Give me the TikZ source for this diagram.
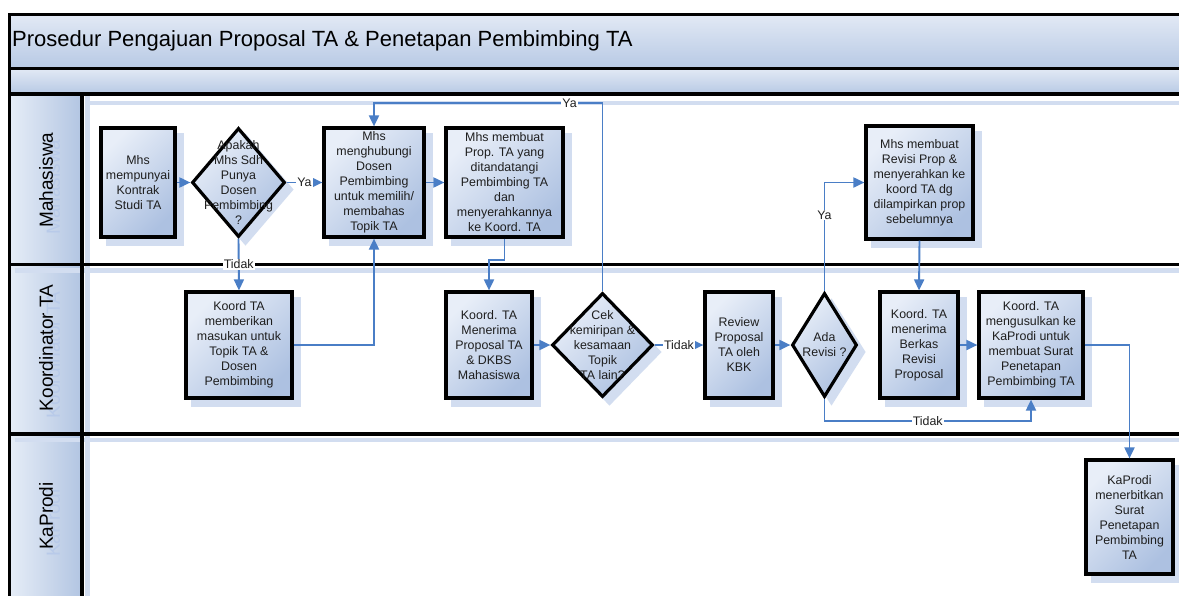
\documentclass[tikz,border=0pt]{standalone}
\usepackage{fontspec}
\setmainfont{Liberation Sans}
\usetikzlibrary{arrows.meta,shapes.geometric}
\definecolor{boxlight}{HTML}{E8EEF8}
\definecolor{boxdark}{HTML}{ADC1E1}
\definecolor{shadowblue}{HTML}{D2DDF0}
\definecolor{hdrlight}{HTML}{E6EDF7}
\definecolor{hdrdark}{HTML}{B2C5E2}
\definecolor{bandlight}{HTML}{E2E9F5}
\definecolor{banddark}{HTML}{B7C9E4}
\definecolor{flow}{HTML}{4A7EC6}
\definecolor{txt}{HTML}{1E1E1E}
\definecolor{ghost}{HTML}{B8CAE9}
\pgfdeclarelayer{lanes}
\pgfdeclarelayer{shadowlayer}
\pgfsetlayers{lanes,shadowlayer,main}
\begin{document}
\begin{tikzpicture}[x=1pt,y=-1pt,
  proc/.style={draw=black,line width=3.2pt,top color=boxlight,bottom color=boxdark,shading angle=45,
    inner sep=0pt,align=center,text=txt,font=\fontsize{12.4}{15}\selectfont},
  dec/.style={shape=diamond,draw=black,line width=3.2pt,top color=boxlight,bottom color=boxdark,shading angle=45,
    inner sep=0pt},
  dectext/.style={align=center,text=txt,font=\fontsize{12.4}{15}\selectfont,inner sep=0pt},
  flowline/.style={draw=flow,line width=1.9pt,-{Triangle[length=11pt,width=10pt]}},
  lab/.style={fill=white,inner sep=1pt,text=txt,font=\fontsize{12.4}{14}\selectfont},
  frame/.style={draw=black,line width=3.2pt},
  stripe/.style={draw=shadowblue,line width=4.5pt},
  shadowfill/.style={fill=shadowblue},
  lanetitle/.style={rotate=90,text=black,font=\fontsize{19}{22}\selectfont,inner sep=0pt},
  laneghost/.style={rotate=90,text=ghost,font=\fontsize{19}{22}\selectfont,inner sep=0pt}
]
\useasboundingbox (0,0) rectangle (1179,595);
\clip (0,0) rectangle (1179,595);
\begin{pgfonlayer}{lanes}
% bands and lanes
\fill[top color=bandlight,bottom color=banddark] (9.5,14.5) rectangle (1190,68.5);
\fill[top color=bandlight,bottom color=banddark] (9.5,68.5) rectangle (1190,94);
\fill[white] (82,94) rectangle (1190,600);
\fill[left color=hdrlight,right color=hdrdark] (9.5,94) rectangle (82,600);
% shadow stripes
\draw[stripe] (85,103) -- (1190,103);
\draw[stripe] (15,270.5) -- (1190,270.5);
\draw[stripe] (15,440) -- (1190,440);
\draw[stripe] (87.5,96) -- (87.5,600);
% frame lines
\draw[frame] (1190,14.5) -- (9.5,14.5) -- (9.5,600);
\draw[frame] (9.5,68.5) -- (1190,68.5);
\draw[frame] (9.5,94) -- (1190,94);
\draw[frame] (9.5,264.5) -- (1190,264.5);
\draw[frame] (9.5,434) -- (1190,434);
\draw[frame] (82,94) -- (82,600);
\end{pgfonlayer}
% title
\node[anchor=west,inner sep=0pt,text=black,font=\fontsize{22}{25}\selectfont] (title) at (12,40.5)
  {Prosedur Pengajuan Proposal TA \& Penetapan Pembimbing TA};
% lane titles
\node[laneghost] (lmg) at (53,187) {Mahasiswa};
\node[lanetitle] (lm) at (46,180) {Mahasiswa};
\node[laneghost] (lkg) at (53,355) {Koordinator TA};
\node[lanetitle] (lk) at (46,348) {Koordinator TA};
\node[laneghost] (lpg) at (53,523) {KaProdi};
\node[lanetitle] (lp) at (46,516) {KaProdi};
% process nodes
\node[proc,minimum width=74pt,minimum height=109pt] (A) at (138,182.5) {Mhs\\mempunyai\\Kontrak\\Studi TA};
\node[dec,minimum width=93pt,minimum height=109pt,
  label={[dectext]center:{Apakah\\Mhs Sdh\\Punya\\Dosen\\Pembimbing\\?}}] (D1) at (238.5,182.5) {};
\node[proc,minimum width=100pt,minimum height=109pt] (B) at (374,182.5)
  {Mhs\\menghubungi\\Dosen\\Pembimbing\\untuk memilih/\\membahas\\Topik TA};
\node[proc,minimum width=117pt,minimum height=109pt] (C) at (504.5,182.5)
  {Mhs membuat\\Prop. TA yang\\ditandatangi\\Pembimbing TA\\dan\\menyerahkannya\\ke Koord. TA};
\node[proc,minimum width=107pt,minimum height=113pt] (E) at (919.5,182.5)
  {Mhs membuat\\Revisi Prop \&\\menyerahkan ke\\koord TA dg\\dilampirkan prop\\sebelumnya};
\node[proc,minimum width=106pt,minimum height=106pt] (F) at (239,345)
  {Koord TA\\memberikan\\masukan untuk\\Topik TA \&\\Dosen\\Pembimbing};
\node[proc,minimum width=86pt,minimum height=106pt] (G) at (489,345)
  {Koord. TA\\Menerima\\Proposal TA\\\& DKBS\\Mahasiswa};
\node[dec,minimum width=101pt,minimum height=104pt,
  label={[dectext]center:{Cek\\kemiripan \&\\kesamaan\\Topik\\TA lain?}}] (D2) at (602.5,345) {};
\node[proc,minimum width=68pt,minimum height=106pt] (H) at (739,345)
  {Review\\Proposal\\TA oleh\\KBK};
\node[dec,minimum width=65pt,minimum height=104pt,
  label={[dectext]center:{Ada\\Revisi ?}}] (D3) at (824.5,345) {};
\node[proc,minimum width=78pt,minimum height=106pt] (I) at (919,345)
  {Koord. TA\\menerima\\Berkas\\Revisi\\Proposal};
\node[proc,minimum width=104pt,minimum height=106pt] (J) at (1031,345)
  {Koord. TA\\mengusulkan ke\\KaProdi untuk\\membuat Surat\\Penetapan\\Pembimbing TA};
\node[proc,minimum width=87pt,minimum height=114pt] (K) at (1129.5,517)
  {KaProdi\\menerbitkan\\Surat\\Penetapan\\Pembimbing\\TA};
% shadows
\begin{pgfonlayer}{shadowlayer}
\foreach \n in {A,B,C,E,F,G,H,I,J,K}{
  \fill[shadowfill] ([shift={(7,7)}]\n.north west) rectangle ([shift={(7,7)}]\n.south east);
}
\foreach \n in {D1,D2,D3}{
  \fill[shadowfill] ([shift={(7,7)}]\n.north) -- ([shift={(7,7)}]\n.east) -- ([shift={(7,7)}]\n.south)
    -- ([shift={(7,7)}]\n.west) -- cycle;
}
\end{pgfonlayer}
% connectors
\draw[flowline] (A) -- (D1);
\draw[flowline] (D1) -- node[lab] {Ya} (B);
\draw[flowline] (D1.south) -- node[lab] {Tidak} (F.north);
\draw[flowline] (F.east) -| (B.south);
\draw[flowline] (B) -- (C);
\draw[flowline] (C.south) -- ([yshift=-21pt]C.south) -| (G.north);
\draw[flowline] (G) -- (D2);
\draw[flowline] (D2.north) |- node[lab,pos=0.572] {Ya} ([yshift=23pt]B.north) -- (B.north);
\draw[flowline] (D2) -- node[lab] {Tidak} (H);
\draw[flowline] (H) -- (D3);
\draw[flowline] (D3.north) |- node[lab,pos=0.35] {Ya} (E.west);
\draw[flowline] (D3.south) -- ([yshift=-22pt]D3.south) -| node[lab,pos=0.25] {Tidak} (J.south);
\draw[flowline] (E.south) -- (I.north);
\draw[flowline] (I) -- (J);
\draw[flowline] (J.east) -| (K.north);
\end{tikzpicture}
\end{document}
